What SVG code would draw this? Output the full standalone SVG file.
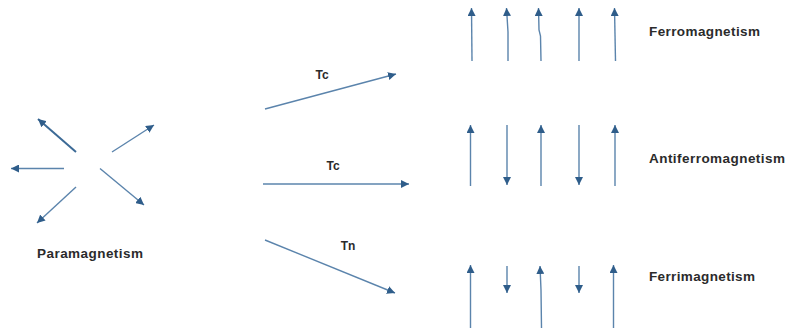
<svg xmlns="http://www.w3.org/2000/svg" width="786" height="331" viewBox="0 0 786 331">
<style>
.ln{fill:none;stroke:#5B84AC;stroke-width:1.4;marker-end:url(#ah)}
.dk{stroke:#3C6A96;stroke-width:2}
.lbl{font-family:"Liberation Sans",Arial,sans-serif;font-weight:bold;fill:#2B2B2B;font-size:13.5px}
.t{font-family:"Liberation Sans",Arial,sans-serif;font-weight:bold;fill:#2B2B2B;font-size:12px;text-anchor:middle}
</style>
<defs>
<marker id="ah" markerUnits="userSpaceOnUse" markerWidth="10" markerHeight="8" refX="8" refY="4" orient="auto">
<path d="M0,0 L8,4 L0,8 Z" fill="#2F5D8A"/>
</marker>
</defs>
<rect width="786" height="331" fill="#FFFFFF"/>
<g id="paramagnetism">
<line class="ln dk" x1="76" y1="152" x2="38" y2="119"/>
<line class="ln" x1="112" y1="152" x2="154" y2="125"/>
<line class="ln" x1="64" y1="168.5" x2="11" y2="168.5"/>
<line class="ln" x1="76" y1="187" x2="37" y2="223"/>
<line class="ln" x1="100" y1="168.5" x2="144" y2="205"/>
<text class="lbl" x="37" y="258" textLength="106" lengthAdjust="spacing">Paramagnetism</text>
</g>
<g id="connectors">
<line class="ln" x1="265" y1="109" x2="396" y2="74"/>
<text class="t" x="322" y="79">Tc</text>
<line class="ln" x1="263" y1="184" x2="409" y2="184"/>
<text class="t" x="333" y="170">Tc</text>
<line class="ln" x1="265" y1="240" x2="395" y2="293"/>
<text class="t" x="348" y="250">Tn</text>
</g>
<g id="ferromagnetism">
<polyline class="ln" points="472,61 471.5,8"/>
<polyline class="ln" points="508,61 508,32 506.5,8"/>
<polyline class="ln" points="541,61 540.5,36 539,30 538.5,8"/>
<polyline class="ln" points="579,61 579,8"/>
<polyline class="ln" points="615.5,61 614.5,8"/>
<text class="lbl" x="649" y="36" textLength="111" lengthAdjust="spacing">Ferromagnetism</text>
</g>
<g id="antiferromagnetism">
<line class="ln" x1="470.5" y1="186" x2="470.5" y2="125"/>
<line class="ln" x1="507" y1="125" x2="507" y2="185"/>
<line class="ln" x1="541" y1="186" x2="541" y2="125"/>
<line class="ln" x1="579" y1="125" x2="579" y2="185"/>
<line class="ln" x1="615" y1="186" x2="615" y2="125"/>
<text class="lbl" x="649" y="163" textLength="136" lengthAdjust="spacing">Antiferromagnetism</text>
</g>
<g id="ferrimagnetism">
<line class="ln" x1="470.5" y1="328" x2="470.5" y2="265"/>
<line class="ln" x1="507" y1="266" x2="507" y2="293"/>
<polyline class="ln" points="541.5,328 541,290 540,266"/>
<line class="ln" x1="579" y1="266" x2="579" y2="293"/>
<line class="ln" x1="613.5" y1="328" x2="613.5" y2="265"/>
<text class="lbl" x="649" y="281" textLength="106" lengthAdjust="spacing">Ferrimagnetism</text>
</g>
</svg>
